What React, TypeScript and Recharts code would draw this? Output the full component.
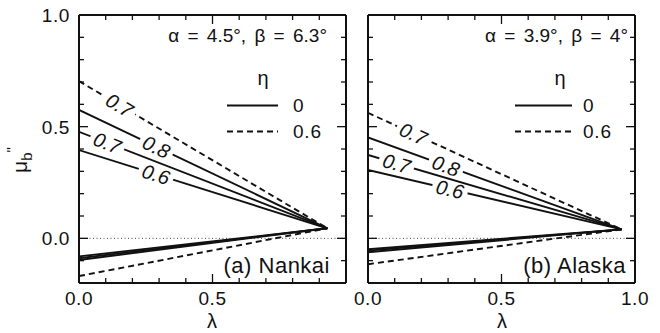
import React from 'react';
import { LineChart, Line, XAxis, YAxis, ReferenceLine } from 'recharts';

const FONT = '"Liberation Sans", Arial, Helvetica, sans-serif';
const INK = '#111';

// Axis ticks (every 0.1, labels on the major ones)
const lambdaTicks = [0, 0.1, 0.2, 0.3, 0.4, 0.5, 0.6, 0.7, 0.8, 0.9, 1.0];
const muTicks = [-0.2, -0.1, 0, 0.1, 0.2, 0.3, 0.4, 0.5, 0.6, 0.7, 0.8, 0.9, 1.0];
const muTickLabels = [0, 0.5, 1.0];
const lambdaTickLabelsNankai = [0, 0.5];
const lambdaTickLabelsAlaska = [0, 0.5, 1.0];

// (a) Nankai, α = 4.5°, β = 6.3° — curves from λ = 0 to where they meet
const nankaiLambda = [0, 0.93];
const nankaiUpper06 = [0.395, 0.045];
const nankaiUpper07 = [0.477, 0.045];
const nankaiUpper08 = [0.575, 0.045];
const nankaiUpperDashed07 = [0.704, 0.045];
const nankaiLower06 = [-0.081, 0.045];
const nankaiLower07 = [-0.089, 0.045];
const nankaiLower08 = [-0.097, 0.045];
const nankaiLowerDashed07 = [-0.169, 0.045];

// (b) Alaska, α = 3.9°, β = 4°
const alaskaLambda = [0, 0.95];
const alaskaUpper06 = [0.306, 0.04];
const alaskaUpper07 = [0.373, 0.04];
const alaskaUpper08 = [0.452, 0.04];
const alaskaUpperDashed07 = [0.562, 0.04];
const alaskaLower06 = [-0.049, 0.04];
const alaskaLower07 = [-0.055, 0.04];
const alaskaLower08 = [-0.062, 0.04];
const alaskaLowerDashed07 = [-0.116, 0.04];

// Where the in-line contour labels sit (λ of the label centre)
const nankaiLabelAt = { dashed07: 0.152, upper08: 0.29, upper07: 0.106, upper06: 0.288 };
const alaskaLabelAt = { dashed07: 0.17, upper08: 0.292, upper07: 0.107, upper06: 0.307 };

type Series = {
  key: string;
  lambda: number[];
  mu: number[];
  dashed: boolean;
  label?: { text: string; at: number };
};

const toRows = (lambda: number[], mu: number[]) => lambda.map((x, i) => ({ x, y: mu[i] }));

const nankaiSeries: Series[] = [
  { key: 'a-u06', lambda: nankaiLambda, mu: nankaiUpper06, dashed: false, label: { text: '0.6', at: nankaiLabelAt.upper06 } },
  { key: 'a-u07', lambda: nankaiLambda, mu: nankaiUpper07, dashed: false, label: { text: '0.7', at: nankaiLabelAt.upper07 } },
  { key: 'a-u08', lambda: nankaiLambda, mu: nankaiUpper08, dashed: false, label: { text: '0.8', at: nankaiLabelAt.upper08 } },
  { key: 'a-ud07', lambda: nankaiLambda, mu: nankaiUpperDashed07, dashed: true, label: { text: '0.7', at: nankaiLabelAt.dashed07 } },
  { key: 'a-l06', lambda: nankaiLambda, mu: nankaiLower06, dashed: false },
  { key: 'a-l07', lambda: nankaiLambda, mu: nankaiLower07, dashed: false },
  { key: 'a-l08', lambda: nankaiLambda, mu: nankaiLower08, dashed: false },
  { key: 'a-ld07', lambda: nankaiLambda, mu: nankaiLowerDashed07, dashed: true },
];

const alaskaSeries: Series[] = [
  { key: 'b-u06', lambda: alaskaLambda, mu: alaskaUpper06, dashed: false, label: { text: '0.6', at: alaskaLabelAt.upper06 } },
  { key: 'b-u07', lambda: alaskaLambda, mu: alaskaUpper07, dashed: false, label: { text: '0.7', at: alaskaLabelAt.upper07 } },
  { key: 'b-u08', lambda: alaskaLambda, mu: alaskaUpper08, dashed: false, label: { text: '0.8', at: alaskaLabelAt.upper08 } },
  { key: 'b-ud07', lambda: alaskaLambda, mu: alaskaUpperDashed07, dashed: true, label: { text: '0.7', at: alaskaLabelAt.dashed07 } },
  { key: 'b-l06', lambda: alaskaLambda, mu: alaskaLower06, dashed: false },
  { key: 'b-l07', lambda: alaskaLambda, mu: alaskaLower07, dashed: false },
  { key: 'b-l08', lambda: alaskaLambda, mu: alaskaLower08, dashed: false },
  { key: 'b-ld07', lambda: alaskaLambda, mu: alaskaLowerDashed07, dashed: true },
];

const isMajor = (v: number) => Math.abs(v * 2 - Math.round(v * 2)) < 1e-6;
const hasLabel = (list: number[], v: number) => list.some((l) => Math.abs(l - v) < 1e-6);

const MAJOR = 9;
const MINOR = 5;

// Inward tick marks on each side of the frame, with optional numbers
const makeTick = (side: 'left' | 'right' | 'top' | 'bottom', labels: number[]) => (props: any) => {
  const { x, y, payload } = props;
  const v: number = payload.value;
  const len = isMajor(v) ? MAJOR : MINOR;
  let x2 = x;
  let y2 = y;
  if (side === 'left') x2 = x + len;
  if (side === 'right') x2 = x - len;
  if (side === 'top') y2 = y + len;
  if (side === 'bottom') y2 = y - len;
  const showText = hasLabel(labels, v);
  return (
    <g>
      <line x1={x} y1={y} x2={x2} y2={y2} stroke={INK} strokeWidth={1.3} />
      {showText && side === 'left' && (
        <text x={x - 9} y={y} dy="0.36em" textAnchor="end" fontSize={19} letterSpacing={0.6} fontFamily={FONT} fill={INK}>
          {v.toFixed(1)}
        </text>
      )}
      {showText && side === 'bottom' && (
        <text x={x} y={y + 22} textAnchor="middle" fontSize={19} letterSpacing={0.6} fontFamily={FONT} fill={INK}>
          {v.toFixed(1)}
        </text>
      )}
    </g>
  );
};

// Contour value written along its curve, with the curve broken underneath
const makeLineLabel = (s: Series) => (props: any) => {
  const { index, points } = props;
  if (!s.label || index !== 0 || !points || points.length < 2) {
    return <g key={`d-${s.key}-${index}`} />;
  }
  const p0 = points[0];
  const p1 = points[points.length - 1];
  const t = (s.label.at - s.lambda[0]) / (s.lambda[s.lambda.length - 1] - s.lambda[0]);
  const cx = p0.x + t * (p1.x - p0.x);
  const cy = p0.y + t * (p1.y - p0.y);
  const angle = (Math.atan2(p1.y - p0.y, p1.x - p0.x) * 180) / Math.PI;
  return (
    <g key={`d-${s.key}-${index}`} transform={`translate(${cx},${cy}) rotate(${angle})`}>
      <rect x={-18} y={-5} width={36} height={10} fill="#fff" />
      <text
        x={0}
        y={0}
        dy="0.36em"
        textAnchor="middle"
        fontSize={20}
        fontStyle="italic"
        fontFamily={FONT}
        fill={INK}
      >
        {s.label.text}
      </text>
    </g>
  );
};

type PanelProps = {
  left: number;
  width: number;
  yAxisWidth: number;
  rightWidth: number;
  series: Series[];
  yLabels: number[];
  xLabels: number[];
};

const HEIGHT = 333;
const TOP = 15;
const BOTTOM = 50;

function Panel({ left, width, yAxisWidth, rightWidth, series, yLabels, xLabels }: PanelProps) {
  const axisLine = { stroke: INK, strokeWidth: 2 };
  return (
    <div style={{ position: 'absolute', left, top: 0 }}>
      <LineChart width={width} height={HEIGHT} margin={{ top: 0, right: 0, bottom: 0, left: 0 }}>
        <XAxis
          xAxisId="b"
          type="number"
          dataKey="x"
          domain={[0, 1]}
          ticks={lambdaTicks}
          interval={0}
          allowDataOverflow
          orientation="bottom"
          height={BOTTOM}
          tickSize={0}
          tickMargin={0}
          tickLine={false}
          axisLine={axisLine}
          tick={makeTick('bottom', xLabels)}
        />
        <XAxis
          xAxisId="t"
          type="number"
          dataKey="x"
          domain={[0, 1]}
          ticks={lambdaTicks}
          interval={0}
          allowDataOverflow
          orientation="top"
          height={TOP}
          tickSize={0}
          tickMargin={0}
          tickLine={false}
          axisLine={axisLine}
          tick={makeTick('top', [])}
        />
        <YAxis
          yAxisId="l"
          type="number"
          domain={[-0.2, 1.0]}
          ticks={muTicks}
          interval={0}
          allowDataOverflow
          orientation="left"
          width={yAxisWidth}
          tickSize={0}
          tickMargin={0}
          tickLine={false}
          axisLine={axisLine}
          tick={makeTick('left', yLabels)}
        />
        <YAxis
          yAxisId="r"
          type="number"
          domain={[-0.2, 1.0]}
          ticks={muTicks}
          interval={0}
          allowDataOverflow
          orientation="right"
          width={rightWidth}
          tickSize={0}
          tickMargin={0}
          tickLine={false}
          axisLine={axisLine}
          tick={makeTick('right', [])}
        />
        <ReferenceLine
          xAxisId="b"
          yAxisId="l"
          y={0}
          stroke="#444"
          strokeWidth={1}
          strokeDasharray="1 2.5"
        />
        {series.map((s) => (
          <Line
            key={s.key}
            xAxisId="b"
            yAxisId="l"
            data={toRows(s.lambda, s.mu)}
            dataKey="y"
            type="linear"
            stroke={INK}
            strokeWidth={1.9}
            strokeDasharray={s.dashed ? '6 4' : undefined}
            dot={makeLineLabel(s)}
            activeDot={false}
            isAnimationActive={false}
          />
        ))}
      </LineChart>
    </div>
  );
}

const textStyle = { fontFamily: FONT, fill: INK } as const;

export default function App() {
  return (
    <div style={{ position: 'absolute', left: 0, top: 0, width: 660, height: HEIGHT, background: '#fff' }}>
      <Panel
        left={0}
        width={350}
        yAxisWidth={79}
        rightWidth={4}
        series={nankaiSeries}
        yLabels={muTickLabels}
        xLabels={lambdaTickLabelsNankai}
      />
      <Panel
        left={350}
        width={310}
        yAxisWidth={18}
        rightWidth={25}
        series={alaskaSeries}
        yLabels={[]}
        xLabels={lambdaTickLabelsAlaska}
      />
      <svg
        width={660}
        height={HEIGHT}
        style={{ position: 'absolute', left: 0, top: 0, pointerEvents: 'none' }}
      >
        {/* y-axis title */}
        <text transform="translate(27,160) rotate(-90)" textAnchor="middle" fontSize={21} {...textStyle}>
          μ
          <tspan fontSize={15} dy={5}>b</tspan>
          <tspan fontSize={15} dy={-15}>{'"'}</tspan>
        </text>

        {/* x-axis titles */}
        <text x={212} y={328} textAnchor="middle" fontSize={20} {...textStyle}>λ</text>
        <text x={502} y={328} textAnchor="middle" fontSize={20} {...textStyle}>λ</text>

        {/* panel (a) annotations */}
        <text x={327} y={42} textAnchor="end" fontSize={19} wordSpacing={3} {...textStyle}>α = 4.5°, β = 6.3°</text>
        <text x={263} y={85} textAnchor="middle" fontSize={20} {...textStyle}>η</text>
        <line x1={227} y1={105.5} x2={278} y2={105.5} stroke={INK} strokeWidth={1.9} />
        <text x={293} y={112} fontSize={19} letterSpacing={0.8} {...textStyle}>0</text>
        <line x1={227} y1={131.5} x2={278} y2={131.5} stroke={INK} strokeWidth={1.9} strokeDasharray="6 4" />
        <text x={293} y={138} fontSize={19} letterSpacing={0.8} {...textStyle}>0.6</text>
        <text x={330} y={273} textAnchor="end" fontSize={22} letterSpacing={0.5} {...textStyle}>(a) Nankai</text>

        {/* panel (b) annotations */}
        <text x={628} y={42} textAnchor="end" fontSize={19} wordSpacing={3} {...textStyle}>α = 3.9°, β = 4°</text>
        <text x={560} y={85} textAnchor="middle" fontSize={20} {...textStyle}>η</text>
        <line x1={515} y1={105.5} x2={572} y2={105.5} stroke={INK} strokeWidth={1.9} />
        <text x={583} y={112} fontSize={19} letterSpacing={0.8} {...textStyle}>0</text>
        <line x1={515} y1={131.5} x2={572} y2={131.5} stroke={INK} strokeWidth={1.9} strokeDasharray="6 4" />
        <text x={583} y={138} fontSize={19} letterSpacing={0.8} {...textStyle}>0.6</text>
        <text x={626} y={273} textAnchor="end" fontSize={22} letterSpacing={0.5} {...textStyle}>(b) Alaska</text>
      </svg>
    </div>
  );
}
